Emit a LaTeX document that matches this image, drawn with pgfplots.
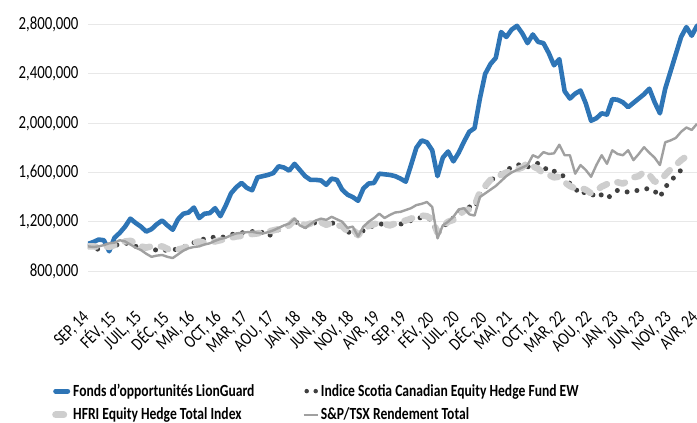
\documentclass[border=0pt]{standalone}
\usepackage{fontspec}
\setmainfont{Carlito}[FakeStretch=0.8]
\usepackage{pgfplots}
\usepackage{pgfplotstable}
\pgfplotsset{compat=1.18}
\definecolor{lgblue}{RGB}{46,117,182}
\definecolor{scotia}{RGB}{64,64,64}
\definecolor{hfri}{RGB}{206,206,206}
\definecolor{tsx}{RGB}{160,160,160}
\definecolor{gridc}{RGB}{232,232,232}

\pgfplotstableread{
m v
0 1020000
1 1035000
2 1055000
3 1050000
4 960000
5 1070000
6 1110000
7 1160000
8 1225000
9 1190000
10 1160000
11 1120000
12 1140000
13 1180000
14 1210000
15 1170000
16 1135000
17 1220000
18 1265000
19 1275000
20 1315000
21 1230000
22 1265000
23 1270000
24 1310000
25 1245000
26 1330000
27 1430000
28 1480000
29 1515000
30 1475000
31 1455000
32 1560000
33 1570000
34 1580000
35 1595000
36 1650000
37 1640000
38 1615000
39 1670000
40 1620000
41 1570000
42 1540000
43 1540000
44 1535000
45 1500000
46 1550000
47 1540000
48 1460000
49 1420000
50 1400000
51 1370000
52 1470000
53 1510000
54 1515000
55 1590000
56 1585000
57 1580000
58 1570000
59 1550000
60 1525000
61 1660000
62 1800000
63 1860000
64 1845000
65 1780000
66 1570000
67 1720000
68 1770000
69 1690000
70 1760000
71 1850000
72 1930000
73 1960000
74 2200000
75 2400000
76 2480000
77 2530000
78 2740000
79 2700000
80 2760000
81 2790000
82 2730000
83 2650000
84 2720000
85 2660000
86 2650000
87 2570000
88 2470000
89 2520000
90 2260000
91 2200000
92 2240000
93 2265000
94 2160000
95 2020000
96 2040000
97 2080000
98 2070000
99 2195000
100 2190000
101 2170000
102 2130000
103 2165000
104 2200000
105 2235000
106 2280000
107 2170000
108 2080000
109 2280000
110 2420000
111 2560000
112 2700000
113 2780000
114 2710000
115 2790000
}\fonds

\pgfplotstableread{
m v
0 1000000
1 990000
2 975000
3 985000
4 1000000
5 1005000
6 1020000
7 1030000
8 1010000
9 1000000
10 990000
11 985000
12 975000
13 970000
14 975000
15 965000
16 970000
17 980000
18 995000
19 1010000
20 1030000
21 1050000
22 1060000
23 1070000
24 1075000
25 1070000
26 1080000
27 1095000
28 1105000
29 1110000
30 1115000
31 1120000
32 1130000
33 1110000
34 1080000
35 1110000
36 1135000
37 1155000
38 1170000
39 1200000
40 1190000
41 1160000
42 1175000
43 1195000
44 1200000
45 1175000
46 1195000
47 1165000
48 1160000
49 1110000
50 1130000
51 1080000
52 1130000
53 1150000
54 1170000
55 1185000
56 1175000
57 1170000
58 1175000
59 1180000
60 1195000
61 1210000
62 1225000
63 1235000
64 1235000
65 1210000
66 1100000
67 1150000
68 1200000
69 1230000
70 1270000
71 1300000
72 1320000
73 1310000
74 1420000
75 1480000
76 1530000
77 1570000
78 1590000
79 1620000
80 1640000
81 1660000
82 1665000
83 1645000
84 1660000
85 1675000
86 1650000
87 1605000
88 1610000
89 1600000
90 1560000
91 1510000
92 1470000
93 1420000
94 1445000
95 1430000
96 1395000
97 1420000
98 1390000
99 1420000
100 1455000
101 1450000
102 1440000
103 1450000
104 1455000
105 1465000
106 1470000
107 1450000
108 1400000
109 1480000
110 1530000
111 1575000
112 1620000
113 1660000
}\scotiatab

\pgfplotstableread{
m v
0 1000000
1 1000000
2 995000
3 1005000
4 995000
5 1010000
6 1030000
7 1040000
8 1045000
9 1030000
10 1000000
11 990000
12 1000000
13 995000
14 1000000
15 980000
16 960000
17 975000
18 985000
19 1005000
20 1030000
21 1040000
22 1030000
23 1025000
24 1040000
25 1050000
26 1060000
27 1070000
28 1080000
29 1085000
30 1090000
31 1100000
32 1105000
33 1115000
34 1120000
35 1130000
36 1140000
37 1160000
38 1170000
39 1215000
40 1200000
41 1170000
42 1185000
43 1200000
44 1195000
45 1175000
46 1190000
47 1170000
48 1165000
49 1120000
50 1140000
51 1090000
52 1140000
53 1165000
54 1180000
55 1190000
56 1180000
57 1170000
58 1185000
59 1200000
60 1210000
61 1225000
62 1240000
63 1250000
64 1245000
65 1220000
66 1110000
67 1165000
68 1200000
69 1215000
70 1250000
71 1290000
72 1300000
73 1330000
74 1440000
75 1490000
76 1540000
77 1560000
78 1580000
79 1600000
80 1610000
81 1625000
82 1640000
83 1680000
84 1650000
85 1630000
86 1590000
87 1580000
88 1560000
89 1565000
90 1520000
91 1490000
92 1470000
93 1475000
94 1460000
95 1430000
96 1455000
97 1485000
98 1505000
99 1525000
100 1520000
101 1510000
102 1530000
103 1560000
104 1570000
105 1605000
106 1580000
107 1525000
108 1530000
109 1580000
110 1625000
111 1660000
112 1700000
113 1730000
}\hfritab

\pgfplotstableread{
m v
0 1000000
1 995000
2 1000000
3 1010000
4 1025000
5 1030000
6 1050000
7 1040000
8 1015000
9 990000
10 970000
11 940000
12 915000
13 925000
14 930000
15 915000
16 905000
17 935000
18 965000
19 985000
20 995000
21 1000000
22 1015000
23 1025000
24 1045000
25 1060000
26 1070000
27 1090000
28 1105000
29 1110000
30 1115000
31 1118000
32 1110000
33 1105000
34 1115000
35 1130000
36 1150000
37 1170000
38 1185000
39 1225000
40 1170000
41 1150000
42 1180000
43 1210000
44 1225000
45 1215000
46 1240000
47 1220000
48 1200000
49 1150000
50 1160000
51 1080000
52 1160000
53 1200000
54 1230000
55 1265000
56 1230000
57 1255000
58 1275000
59 1280000
60 1295000
61 1310000
62 1335000
63 1345000
64 1360000
65 1320000
66 1065000
67 1170000
68 1200000
69 1240000
70 1300000
71 1310000
72 1260000
73 1250000
74 1400000
75 1430000
76 1460000
77 1490000
78 1530000
79 1570000
80 1600000
81 1620000
82 1640000
83 1660000
84 1740000
85 1720000
86 1765000
87 1750000
88 1755000
89 1825000
90 1740000
91 1740000
92 1590000
93 1660000
94 1620000
95 1565000
96 1660000
97 1740000
98 1670000
99 1780000
100 1750000
101 1740000
102 1780000
103 1700000
104 1750000
105 1805000
106 1760000
107 1720000
108 1660000
109 1845000
110 1860000
111 1880000
112 1930000
113 1965000
114 1945000
115 1995000
}\tsxtab

\begin{document}
\begin{tikzpicture}
\begin{axis}[
  scale only axis,
  width=609pt, height=271pt,
  xmin=0, xmax=115,
  ymin=800000, ymax=3000000,
  ytick={800000,1200000,1600000,2000000,2400000,2800000},
  scaled y ticks=false,
  yticklabel style={/pgf/number format/fixed, /pgf/number format/1000 sep={,}, /pgf/number format/assume math mode=true,
    font=\fontsize{18.5}{20}\selectfont, anchor=east, xshift=-6pt},
  xtick={0,5,...,115},
  xticklabels={{SEP, 14},{FÉV, 15},{JUIL, 15},{DÉC, 15},{MAI, 16},{OCT, 16},{MAR, 17},{AOU, 17},{JAN, 18},{JUN, 18},{NOV, 18},{AVR, 19},{SEP, 19},{FÉV, 20},{JUIL, 20},{DÉC, 20},{MAI, 21},{OCT, 21},{MAR, 22},{AOU, 22},{JAN, 23},{JUN, 23},{NOV, 23},{AVR, 24}},
  xticklabel style={font=\fontsize{18}{19}\selectfont, xshift=-1pt, yshift=-14pt, rotate=45, anchor=east, inner sep=1pt},
  xticklabel shift=29pt,
  ymajorgrids,
  major grid style={color=gridc, line width=0.9pt},
  axis line style={draw=none},
  tick style={draw=none},
  legend columns=2,
  legend style={at={(axis description cs:0,0)}, anchor=north west, xshift=-36pt, yshift=-111pt,
    draw=none, fill=none, font=\bfseries\fontsize{17}{18}\selectfont,
    row sep=6pt, inner sep=0pt,
    /tikz/every even column/.append style={column sep=46pt}},
  legend cell align=left,
]
\addplot[lgblue, line width=4.6pt, line join=round, line cap=round,
  legend image code/.code={\draw[lgblue, line width=5pt] (0pt,0pt) -- (12pt,0pt);}]
  table[x=m,y=v] {\fonds};
\addlegendentry{Fonds d\symbol{39}opportunités LionGuard}
\addplot[scotia, line width=5pt, line cap=round, dash pattern=on 0pt off 10pt,
  legend image code/.code={\draw[scotia, line width=4.5pt, line cap=round, dash pattern=on 0pt off 9pt] (3pt,0pt) -- (13pt,0pt);}]
  table[x=m,y=v] {\scotiatab};
\addlegendentry{Indice Scotia Canadian Equity Hedge Fund EW}
\addplot[hfri, line width=6.5pt, line cap=round, line join=round, dash pattern=on 8pt off 11pt,
  legend image code/.code={\draw[hfri, line width=7pt] (0pt,0pt) -- (12pt,0pt);}]
  table[x=m,y=v] {\hfritab};
\addlegendentry{HFRI Equity Hedge Total Index}
\addplot[tsx, line width=2.4pt, line join=round,
  legend image code/.code={\draw[tsx, line width=2.5pt] (0pt,0pt) -- (14pt,0pt);}]
  table[x=m,y=v] {\tsxtab};
\addlegendentry{S\&P/TSX Rendement Total}
\end{axis}
\pgfresetboundingbox
\path[use as bounding box] (-88pt,-152pt) rectangle (609pt,271pt);
\end{tikzpicture}
\end{document}
